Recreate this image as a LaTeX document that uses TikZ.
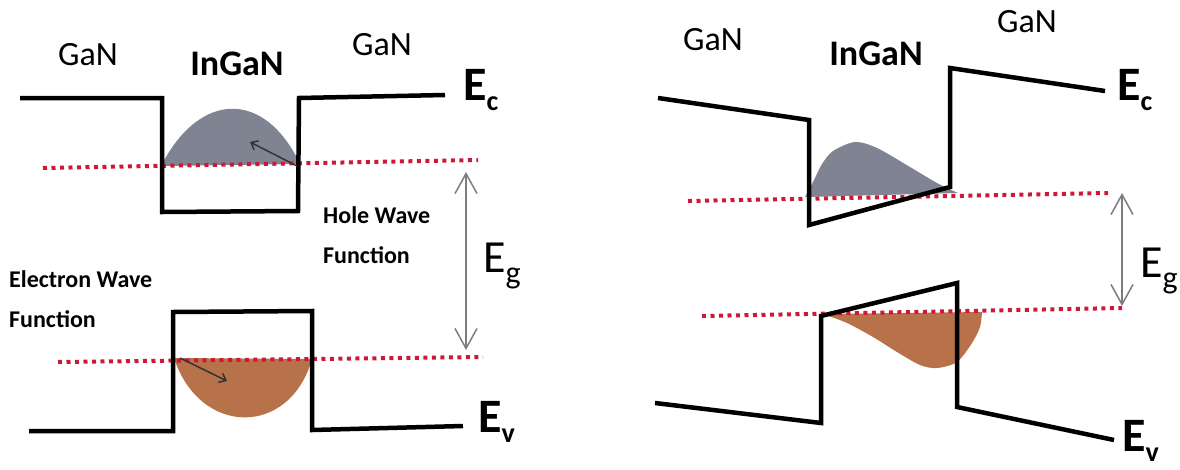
\documentclass[tikz,border=0pt]{standalone}
\usepackage{fontspec}
\setmainfont{Carlito}
\usepackage{tikz}
\usetikzlibrary{arrows.meta}
\definecolor{cwave}{RGB}{128,132,146}
\definecolor{vwave}{RGB}{184,114,74}
\definecolor{qlev}{RGB}{205,25,55}
\definecolor{gapc}{RGB}{125,125,125}
\newcommand{\lvlsub}[1]{\raisebox{-10pt}{\fontsize{28}{28}\selectfont #1}}

\begin{document}
\begin{tikzpicture}[
  x=1pt, y=-1pt,
  band/.style={line width=4.5pt, line join=miter},
  lev/.style={draw=qlev, line width=4pt, dash pattern=on 4pt off 4.5pt},
  gap/.style={{Straight Barb[length=20pt,width=22pt]}-{Straight Barb[length=20pt,width=22pt]},
              draw=gapc, line width=1.5pt},
  wv/.style={-{Straight Barb[length=6pt,width=10pt]}, line width=1.5pt, black!80},
  mat/.style={font=\fontsize{34}{34}\selectfont, anchor=base},
  matb/.style={font=\fontsize{36}{36}\selectfont\bfseries, anchor=base},
  lvl/.style={font=\fontsize{48}{48}\selectfont\bfseries, anchor=base west, inner sep=0pt},
  eg/.style={font=\fontsize{46}{46}\selectfont, anchor=base west, inner sep=0pt},
  wlbl/.style={font=\fontsize{24}{24}\selectfont\bfseries, anchor=base west, inner sep=0pt}
]
\useasboundingbox (0,0) rectangle (1180,469);

% Wellenfunktionen links
\fill[cwave] (161,166) .. controls (200,90) and (265,90) .. (300,164) -- cycle;
\fill[vwave] (174,358) .. controls (200,437) and (290,437) .. (312,359) -- cycle;

% Wellenfunktionen rechts
\fill[cwave] plot[smooth] coordinates {(805,197) (814,180) (822,164) (833,151) (855,142)
  (877,148) (910,167) (937,183) (958,193)} -- cycle;
\fill[vwave] plot[smooth] coordinates {(823,314) (847,323) (873,337) (897,352) (920,365)
  (937,368) (957,362) (972,343) (980,327) (982,312)} -- cycle;

% Energieniveaus
\draw[lev] (43,168) -- (478,160);
\draw[lev] (58,362) -- (483,357);
\draw[lev] (688,201) -- (1108,193);
\draw[lev] (702,316) -- (1122,308);

% Baender links
\draw[band] (20,98) -- (162,98) -- (162,212) -- (298,211) -- (299,98) -- (445,95);
\draw[band] (29,431) -- (173,431) -- (173,312) -- (312,311) -- (312,430) -- (463,426);

% Baender rechts
\draw[band] (658,98) -- (809,120) -- (809,225) -- (950,187) -- (950,68) -- (1105,91);
\draw[band] (655,403) -- (821,423) -- (821,316) -- (957,283) -- (957,407) -- (1114,440);

% Pfeile in den Wellenfunktionen
\coordinate (ct) at (297,166);
\coordinate (ch) at (250,142);
\coordinate (vt) at (180,358);
\coordinate (vh) at (227,381);
\draw[wv] (ct) -- (ch);
\draw[wv] (vt) -- (vh);

% Bandluecke
\coordinate (ega) at (466,172);
\coordinate (egb) at (466,350);
\coordinate (egc) at (1122,193);
\coordinate (egd) at (1122,306);
\draw[gap] (ega) -- (egb);
\draw[gap] (egc) -- (egd);

% Beschriftung links
\node[mat]  (gan1) at (88,65)  {GaN};
\node[matb] (ing1) at (237,75) {InGaN};
\node[mat]  (gan2) at (382,55) {GaN};
\node[lvl]  (ec1)  at (463,100) {E\lvlsub{c}};
\node[lvl]  (ev1)  at (478,432) {E\lvlsub{v}};
\node[eg]   (eg1)  at (483,272) {E\raisebox{-11pt}{\fontsize{32}{32}\selectfont g}};
\node[wlbl] (hw1)  at (323,223) {Hole Wave};
\node[wlbl] (hw2)  at (323,263) {Function};
\node[wlbl] (ew1)  at (9,287)   {Electron Wave};
\node[wlbl] (ew2)  at (9,327)   {Function};

% Beschriftung rechts
\node[mat]  (gan3) at (713,50)  {GaN};
\node[matb] (ing2) at (876,65)  {InGaN};
\node[mat]  (gan4) at (1027,32) {GaN};
\node[lvl]  (ec2)  at (1117,100) {E\lvlsub{c}};
\node[lvl]  (ev2)  at (1122,451) {E\lvlsub{v}};
\node[eg]   (eg2)  at (1140,277) {E\raisebox{-11pt}{\fontsize{32}{32}\selectfont g}};

\end{tikzpicture}
\end{document}
